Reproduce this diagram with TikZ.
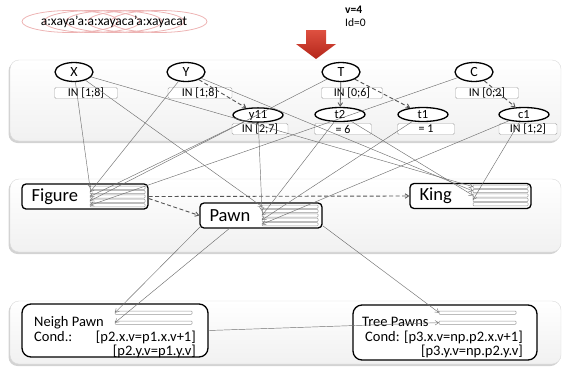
\documentclass[tikz,border=0pt]{standalone}
\usepackage{fontspec}
\setmainfont{Carlito}
\usepackage{tikz}
\usetikzlibrary{arrows.meta,shapes.geometric,shadows}
\definecolor{LinkGray}{HTML}{707070}
\definecolor{DashGray}{HTML}{555555}
\definecolor{SlotGray}{HTML}{999999}
\definecolor{RingPink}{HTML}{EDB3B3}
\definecolor{ArrowRedTop}{HTML}{DE5040}
\definecolor{ArrowRedBot}{HTML}{B4261A}

% bars inside a class box, one named coordinate per bar
\newcommand{\slotbars}[6]{%
  \foreach \i in {1,...,#5}{
    \pgfmathsetmacro{\ytop}{#4+(\i-1)*#6}
    \draw[slot] (#2,\ytop) rectangle (#3,\ytop+3.3);
    \coordinate (#1-s\i) at (#2,\ytop+1.65);
  }}

\begin{document}
\begin{tikzpicture}[
      x=1pt,
      y=-1pt,
      >={Straight Barb[length=3.5pt,width=4.5pt]},
      panel/.style={rounded corners=9pt,draw=gray!30,top color=white,bottom color=gray!11,
        drop shadow={shadow xshift=-1.5pt,shadow yshift=-2pt,opacity=.35}},
      attr/.style={ellipse,draw,line width=1.3pt,fill=white,minimum width=38pt,
        minimum height=19pt,inner sep=0pt,font=\fontsize{14}{14}\selectfont},
      sub/.style={attr,minimum width=50pt,minimum height=14pt,font=\fontsize{12.5}{12.5}\selectfont},
      dom/.style={draw=gray!70,rounded corners=1.5pt,fill=white,minimum height=11pt,
        inner sep=0pt,font=\fontsize{12}{12}\selectfont},
      cls/.style={draw,line width=1.3pt,rounded corners=4pt,fill=white,inner sep=0pt,minimum height=25pt},
      box/.style={draw,line width=1.3pt,rounded corners=9pt,fill=white,inner sep=0pt},
      slot/.style={draw=SlotGray,fill=white,line width=.5pt,rounded corners=.8pt},
      link/.style={->,draw=LinkGray,line width=.45pt},
      isa/.style={->,draw=DashGray,line width=.9pt,dash pattern=on 4pt off 2.5pt},
      refine/.style={->,draw=DashGray,line width=.8pt},
      big/.style={font=\fontsize{18.5}{18.5}\selectfont,inner sep=0pt,anchor=west},
      txt/.style={font=\fontsize{14.5}{14.5}\selectfont,inner sep=0pt}
    ]
      \useasboundingbox (0,0) rectangle (567,367);

      % state line at the top
      \foreach \cx in {70,92,114,136,159}
        \draw[RingPink,line width=.8pt] (\cx,21.5) ellipse (48 and 11);
      \node[font=\fontsize{13.5}{13.5}\selectfont,inner sep=0pt] (trace) at (114,21.5) {a:xaya'a:a:xayaca'a:xayacat};
      \node[font=\bfseries\fontsize{11.5}{11.5}\selectfont,inner sep=0pt,anchor=west] (val) at (345,10) {v=4};
      \node[font=\fontsize{11.5}{11.5}\selectfont,inner sep=0pt,anchor=west] (ident) at (345,23) {Id=0};
      \draw[top color=ArrowRedTop,bottom color=ArrowRedBot,draw=none]
        (306,30) -- (326,30) -- (326,44) -- (336,44) -- (316,59) -- (296,44) -- (306,44) -- cycle;

      % panels
      \path[panel] (10,60) rectangle (561,141);
      \path[panel] (10,179) rectangle (561,252);
      \path[panel] (10,301) rectangle (561,364);

      % variables and domains
      \node[attr] (X) at (74,72) {X};
      \node[attr] (Y) at (186,72) {Y};
      \node[attr] (T) at (341,72) {T};
      \node[attr] (C) at (474,72) {C};
      \node[dom,minimum width=63pt] (X-dom) at (86,93) {IN [1;8]};
      \node[dom,minimum width=64pt] (Y-dom) at (200,93) {IN [1;8]};
      \node[dom,minimum width=61pt] (T-dom) at (352,93) {IN [0;6]};
      \node[dom,minimum width=63pt] (C-dom) at (487,93) {IN [0;2]};
      \node[sub] (y11) at (258,115) {y11};
      \node[sub] (t2) at (340,114.5) {t2};
      \node[sub] (t1) at (423,114.5) {t1};
      \node[sub] (c1) at (524,114.5) {c1};
      \node[dom,minimum width=56pt] (y11-dom) at (260,129) {IN [2;7]};
      \node[dom,minimum width=57pt] (t2-dom) at (343,129) {= 6};
      \node[dom,minimum width=57pt] (t1-dom) at (426,129) {= 1};
      \node[dom,minimum width=58pt] (c1-dom) at (528,129) {IN [1;2]};

      % classes
      \node[cls,minimum width=126pt] (Figure) at (85,196.5) {};
      \node[cls,minimum width=122pt] (Pawn) at (261,215.5) {};
      \node[cls,minimum width=121pt] (King) at (470.5,196) {};
      \node[big] (Figure-txt) at ([xshift=10pt]Figure.west) {Figure};
      \node[big] (Pawn-txt) at ([xshift=10pt]Pawn.west) {Pawn};
      \node[big] (King-txt) at ([xshift=10pt]King.west) {King};
      \slotbars{Figure}{90}{145}{186}{5}{4.4}
      \slotbars{Pawn}{262}{318}{205}{5}{4.4}
      \slotbars{King}{473}{528}{185}{5}{4.4}

      % patterns
      \node[box,minimum width=186pt,minimum height=53pt] (NeighPawn) at (115,330.5) {};
      \node[box,minimum width=184pt,minimum height=55pt] (TreePawns) at (445,332.5) {};
      \slotbars{NeighPawn}{115}{192}{311}{2}{10}
      \slotbars{TreePawns}{439}{516}{311}{2}{10}
      \node[txt,anchor=west] (np-name) at (34,323) {Neigh Pawn};
      \node[txt,anchor=west] (np-cond) at (34,337) {Cond.:};
      \node[txt,anchor=east] (np-c1) at (196,337) {[p2.x.v=p1.x.v+1]};
      \node[txt,anchor=east] (np-c2) at (196,351) {[p2.y.v=p1.y.v]};
      \node[txt,anchor=west] (tp-name) at (362,322) {Tree Pawns};
      \node[txt,anchor=east] (tp-c1) at (523,337) {Cond: [p3.x.v=np.p2.x.v+1]};
      \node[txt,anchor=east] (tp-c2) at (523,351) {[p3.y.v=np.p2.y.v]};

      % refinements
      \draw[isa] (Y) -- (y11);
      \draw[refine] (T) -- (t2);
      \draw[isa] (T) -- (t1);
      \draw[isa] (C) -- (c1);
      \draw[isa] (Figure.east) -- (King.west);
      \draw[isa] ([yshift=-2pt]Figure.east) -- (Pawn.west);

      % attribute links
      \draw[link] (X) -- (Figure-s1);
      \draw[link] (Y) -- (Figure-s2);
      \draw[link] (y11) -- (Figure-s3);
      \draw[link] (T) -- (Figure-s4);
      \draw[link] (C) -- (Figure-s5);
      \draw[link] (X) -- (Pawn-s1);
      \draw[link] (y11) -- (Pawn-s2);
      \draw[link] (t2) -- (Pawn-s3);
      \draw[link] (t1) -- (Pawn-s4);
      \draw[link] (c1) -- (Pawn-s5);
      \draw[link] (X) -- (King-s1);
      \draw[link] (Y) -- (King-s2);
      \draw[link] (t2) -- (King-s3);
      \draw[link] (c1) -- (King-s4);
      \draw[link] ([xshift=2pt,yshift=3pt]Pawn.south west) -- (NeighPawn-s1);
      \draw[link] ([xshift=31pt,yshift=1pt]Pawn.south west) -- (NeighPawn-s2);
      \draw[link] ([yshift=3pt]Pawn.south east) -- (TreePawns-s1);
      \draw[link] (NeighPawn.east) -- (TreePawns-s2);
    \end{tikzpicture}
\end{document}
